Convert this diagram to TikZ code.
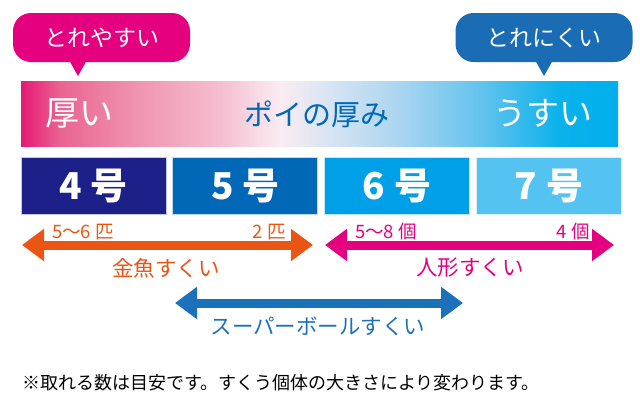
\documentclass[tikz,border=0pt]{standalone}
\usepackage{fontspec}
\setmainfont{Noto Sans CJK JP}
\usetikzlibrary{arrows.meta, positioning}

\definecolor{torepink}{HTML}{E4007F}
\definecolor{toreblue}{HTML}{1A6DB5}
\definecolor{kingyo}{HTML}{EA5514}
\definecolor{superball}{HTML}{1C72BA}
\definecolor{gofour}{HTML}{1D2088}
\definecolor{gofive}{HTML}{0068B7}
\definecolor{gosix}{HTML}{00A0E9}
\definecolor{goseven}{HTML}{54C3F1}
\definecolor{usui}{HTML}{00AFEC}
\definecolor{atsumi}{HTML}{0068B7}

% stops of the thickness bar
\definecolor{barA}{RGB}{229,24,117}
\definecolor{barB}{RGB}{234,100,145}
\definecolor{barC}{RGB}{240,150,178}
\definecolor{barD}{RGB}{245,190,208}
\definecolor{barE}{RGB}{250,236,242}
\definecolor{barF}{RGB}{215,228,243}
\definecolor{barG}{RGB}{170,213,240}
\definecolor{barH}{RGB}{100,195,238}
\definecolor{barI}{RGB}{10,178,236}
\pgfdeclarehorizontalshading{thickness}{100bp}{color(0bp)=(barA); color(25bp)=(barA);
  color(28.3bp)=(barB); color(35bp)=(barC); color(41.7bp)=(barD); color(46.7bp)=(barE);
  color(50.9bp)=(barF); color(56.7bp)=(barG); color(63.4bp)=(barH); color(70.1bp)=(barI);
  color(75bp)=(usui); color(100bp)=(usui)}

\newcommand{\fsz}[1]{\fontsize{#1}{#1}\selectfont}

\tikzset{
  bubble/.style={fill=#1, rounded corners=18pt, minimum width=177pt, minimum height=49pt, text=white, font=\fsz{23}},
  gobox/.style={fill=#1, draw=white!75!#1, line width=0.8pt, minimum width=145pt, minimum height=57pt, text=white, font=\fsz{37}\bfseries},
  range/.style={#1, line width=9pt, {Triangle[width=31pt,length=22pt]}-{Triangle[width=31pt,length=22pt]}},
  count/.style={text=#1, font=\fsz{18.5}, inner sep=0pt},
  rangelabel/.style={text=#1, font=\fsz{21.5}},
}

\begin{document}
\begin{tikzpicture}[x=1pt, y=-1pt]
  \useasboundingbox (0,0) rectangle (640,410);

  % bubbles
  \node[bubble=torepink] (yasui) at (101.5,37.5) {とれやすい};
  \fill[torepink] (69,60) -- (78,76) -- (87,60) -- cycle;
  \node[bubble=toreblue] (nikui) at (544,37.5) {とれにくい};
  \fill[toreblue] (535,60) -- (544,76) -- (553,60) -- cycle;

  % thickness bar
  \shade[shading=thickness] (21,81) rectangle (618,146);
  \node[text=white, font=\fsz{34}] (atsui) at (79,113) {厚い};
  \node[text=atsumi, font=\fsz{29}] (atsumi) at (317,114) {ポイの厚み};
  \node[text=white, font=\fsz{33}] (usui) at (543,113) {うすい};

  % sizes
  \node[gobox=gofour] (go4) at (93.5,186) {4\hspace{9pt}号};
  \node[gobox=gofive, right=6pt of go4] (go5) {5\hspace{9pt}号};
  \node[gobox=gosix, right=6pt of go5] (go6) {6\hspace{9pt}号};
  \node[gobox=goseven, right=6pt of go6] (go7) {7\hspace{9pt}号};

  % ranges
  \coordinate (kingyoL) at (22,245);
  \coordinate (kingyoR) at (313,245);
  \coordinate (ningyoL) at (325,245);
  \coordinate (ningyoR) at (614,245);
  \coordinate (ballL) at (175,303);
  \coordinate (ballR) at (463,303);
  \draw[range=kingyo] (kingyoL) -- (kingyoR);
  \draw[range=torepink] (ningyoL) -- (ningyoR);
  \draw[range=superball] (ballL) -- (ballR);

  \node[count=kingyo, anchor=south west] (kingyoMax) at (52,240) {5〜6 匹};
  \node[count=kingyo, anchor=south east] (kingyoMin) at (286,240) {2 匹};
  \node[count=torepink, anchor=south west] (ningyoMax) at (355,240) {5〜8 個};
  \node[count=torepink, anchor=south east] (ningyoMin) at (590,240) {4 個};

  \node[rangelabel=kingyo] (kingyoName) at (166,268) {金魚すくい};
  \node[rangelabel=torepink] (ningyoName) at (470,268) {人形すくい};
  \node[rangelabel=superball] (ballName) at (318,326) {スーパーボールすくい};

  \node[anchor=west, font=\fsz{18}, inner sep=0pt] (note) at (22,383) {※取れる数は目安です。すくう個体の大きさにより変わります。};
\end{tikzpicture}
\end{document}
